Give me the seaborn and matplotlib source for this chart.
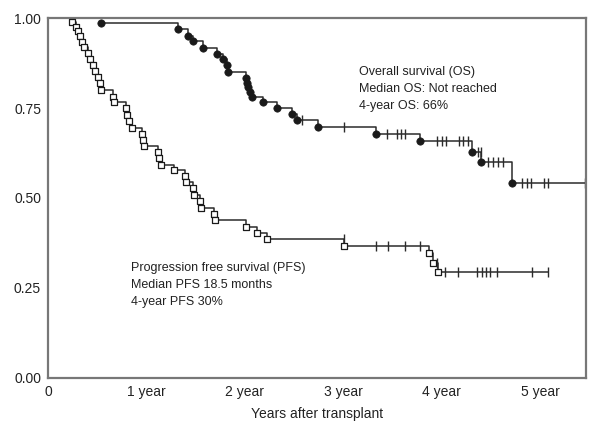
import matplotlib
matplotlib.use("Agg")
import matplotlib.pyplot as plt
import seaborn as sns
import pandas as pd
import numpy as np

# ---- data (years, survival) ----
os_event_t = [0.539, 1.322, 1.424, 1.475, 1.577, 1.719, 1.780, 1.821, 1.831, 2.014, 2.024, 2.035,
              2.055, 2.075, 2.187, 2.330, 2.482, 2.533, 2.747, 3.337, 3.784, 4.313, 4.405, 4.720]
os_event_s = [0.986, 0.969, 0.950, 0.936, 0.917, 0.900, 0.886, 0.869, 0.850, 0.833, 0.819, 0.808,
              0.794, 0.781, 0.767, 0.750, 0.733, 0.717, 0.697, 0.678, 0.658, 0.628, 0.600, 0.542]
os_cens_t = [2.584, 3.011, 3.449, 3.550, 3.591, 3.632, 3.957, 4.008, 4.049, 4.181, 4.222, 4.273,
             4.374, 4.405, 4.476, 4.527, 4.578, 4.629, 4.822, 4.873, 4.914, 5.046, 5.086, 5.453]
os_cens_s = [0.717, 0.697, 0.678, 0.678, 0.678, 0.678, 0.658, 0.658, 0.658, 0.658, 0.658, 0.658,
             0.628, 0.628, 0.600, 0.600, 0.600, 0.600, 0.542, 0.542, 0.542, 0.542, 0.542, 0.542]

pfs_event_t = [0.244, 0.285, 0.305, 0.326, 0.346, 0.366, 0.407, 0.427, 0.458, 0.478, 0.509, 0.529,
               0.539, 0.661, 0.671, 0.793, 0.804, 0.824, 0.855, 0.956, 0.966, 0.977, 1.119, 1.129,
               1.150, 1.282, 1.394, 1.404, 1.475, 1.485, 1.546, 1.556, 1.689, 1.699, 2.014, 2.126,
               2.228, 3.011, 3.876, 3.917, 3.967]
pfs_event_s = [0.989, 0.975, 0.964, 0.950, 0.933, 0.919, 0.903, 0.886, 0.869, 0.853, 0.836, 0.819,
               0.800, 0.781, 0.767, 0.750, 0.731, 0.714, 0.694, 0.678, 0.661, 0.644, 0.628, 0.611,
               0.592, 0.578, 0.561, 0.544, 0.528, 0.508, 0.492, 0.472, 0.456, 0.439, 0.419, 0.403,
               0.386, 0.367, 0.347, 0.319, 0.294]
pfs_cens_t = [3.011, 3.337, 3.459, 3.632, 3.784, 3.957, 4.039, 4.171, 4.364, 4.415, 4.456, 4.496,
              4.568, 4.924, 5.086]
pfs_cens_s = [0.386, 0.367, 0.367, 0.367, 0.367, 0.319, 0.294, 0.294, 0.294, 0.294, 0.294, 0.294,
              0.294, 0.294, 0.294]

x_ticks = [0, 1, 2, 3, 4, 5]
x_tick_labels = ["0", "1 year", "2 year", "3 year", "4 year", "5 year"]
y_ticks = [0.0, 0.25, 0.5, 0.75, 1.0]
y_tick_labels = ["0.00", "0.25", "0.50", "0.75", "1.00"]

os_text = ["Overall survival (OS)", "Median OS: Not reached", "4-year OS: 66%"]
pfs_text = ["Progression free survival (PFS)", "Median PFS 18.5 months", "4-year PFS 30%"]

# ---- style ----
sns.set_style("white")
plt.rcParams["font.family"] = ["Liberation Sans", "DejaVu Sans"]

fig = plt.figure(figsize=(6.0, 4.29), dpi=100)
ax = fig.add_axes([0.08, 0.119, 0.897, 0.839])

line_col = "#2b2b2b"

def step_df(t, s, end_t):
    tt = list(t) + [end_t]
    ss = list(s) + [s[-1]]
    return pd.DataFrame({"t": tt, "s": ss})

os_df = step_df(os_event_t, os_event_s, max(os_cens_t))
pfs_df = step_df(pfs_event_t, pfs_event_s, max(pfs_cens_t))

sns.lineplot(data=os_df, x="t", y="s", ax=ax, sort=False, estimator=None,
             drawstyle="steps-post", color=line_col, linewidth=1.1)
sns.lineplot(data=pfs_df, x="t", y="s", ax=ax, sort=False, estimator=None,
             drawstyle="steps-post", color=line_col, linewidth=1.1)

# censor ticks
ax.plot(os_cens_t, os_cens_s, linestyle="none", marker="|", markersize=7,
        markeredgewidth=1.0, color=line_col)
ax.plot(pfs_cens_t, pfs_cens_s, linestyle="none", marker="|", markersize=7,
        markeredgewidth=1.0, color=line_col)

# event markers
sns.scatterplot(x=os_event_t, y=os_event_s, ax=ax, marker="o", s=28,
                color="#1a1a1a", edgecolor="#1a1a1a", linewidth=0.5, zorder=5)
sns.scatterplot(x=pfs_event_t, y=pfs_event_s, ax=ax, marker="s", s=22,
                facecolor="white", edgecolor="#1a1a1a", linewidth=0.9, zorder=5)

ax.set_xlim(0, 5.47)
ax.set_ylim(0, 1.0)
ax.set_xticks(x_ticks)
ax.set_xticklabels(x_tick_labels)
ax.set_yticks(y_ticks)
ax.set_yticklabels(y_tick_labels)
ax.tick_params(direction="in", length=3, width=1, colors="#777777",
               labelcolor="#222222", labelsize=10, pad=5)
ax.set_xlabel("Years after transplant", fontsize=10, color="#222222", labelpad=6)
ax.set_ylabel("")

for sp in ax.spines.values():
    sp.set_visible(True)
    sp.set_color("#777777")
    sp.set_linewidth(1.6)

text_col = "#222222"
for i, txt in enumerate(os_text):
    ax.text(3.164, 0.850 - i * 0.047, txt, fontsize=9, color=text_col, va="center", ha="left")
for i, txt in enumerate(pfs_text):
    ax.text(0.844, 0.306 - i * 0.047, txt, fontsize=9, color=text_col, va="center", ha="left")

fig.savefig("out.png", dpi=100)
